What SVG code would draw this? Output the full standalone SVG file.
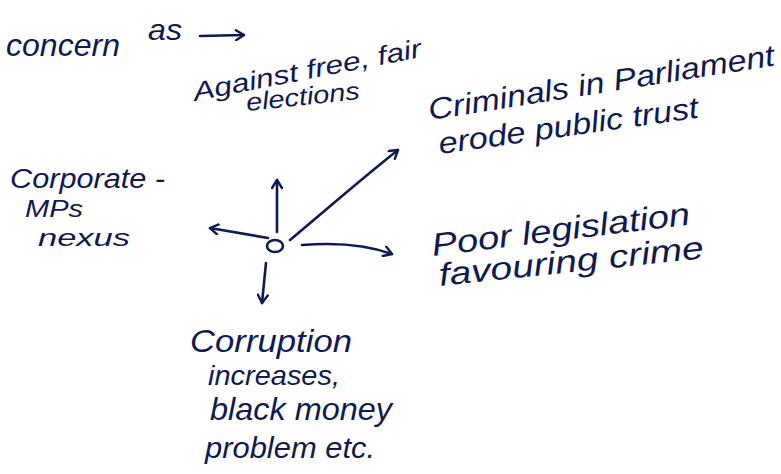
<svg xmlns="http://www.w3.org/2000/svg" width="781" height="474" viewBox="0 0 781 474">
<style>
text{font-family:"Liberation Sans","DejaVu Sans",sans-serif;fill:#0f1a52;font-style:italic}
.ink{fill:none;stroke:#0f1a52;stroke-width:2.6;stroke-linecap:round;stroke-linejoin:round}
</style>
<defs>
<marker id="ah" viewBox="0 0 12 12" refX="10" refY="6" markerWidth="12" markerHeight="12" markerUnits="userSpaceOnUse" orient="auto">
<path d="M2,1 L10,6 L2,11" fill="none" stroke="#0f1a52" stroke-width="2.4" stroke-linecap="round" stroke-linejoin="round"/>
</marker>
</defs>
<rect width="781" height="474" fill="#ffffff"/>
<g id="intro">
<text x="6" y="56" font-size="32" textLength="114" lengthAdjust="spacingAndGlyphs">concern</text>
<text x="148" y="40" font-size="30" textLength="34" lengthAdjust="spacingAndGlyphs">as</text>
<path class="ink" d="M200,36 L244,35" marker-end="url(#ah)"/>
</g>
<g id="hub">
<ellipse class="ink" cx="275" cy="246" rx="8" ry="6"/>
</g>
<g id="connectors">
<path class="ink" d="M277,232 L277,180" marker-end="url(#ah)"/>
<path class="ink" d="M268,238 L210,228" marker-end="url(#ah)"/>
<path class="ink" d="M290,240 C320,215 360,180 398,150" marker-end="url(#ah)"/>
<path class="ink" d="M302,245 C340,242 370,246 392,254" marker-end="url(#ah)"/>
<path class="ink" d="M266,263 L262,303" marker-end="url(#ah)"/>
</g>
<g id="n-elections">
<text font-size="26" transform="translate(195,101) rotate(-11)" textLength="232" lengthAdjust="spacingAndGlyphs">Against free, fair</text>
<text font-size="25" transform="translate(247,111) rotate(-6)" textLength="114" lengthAdjust="spacingAndGlyphs">elections</text>
</g>
<g id="n-criminals">
<text font-size="30" transform="translate(430,120) rotate(-9)" textLength="350" lengthAdjust="spacingAndGlyphs">Criminals in Parliament</text>
<text font-size="30" transform="translate(440,154) rotate(-8)" textLength="262" lengthAdjust="spacingAndGlyphs">erode public trust</text>
</g>
<g id="n-corporate">
<text x="10" y="188" font-size="27" textLength="155" lengthAdjust="spacingAndGlyphs">Corporate -</text>
<text x="25" y="217" font-size="23" textLength="58" lengthAdjust="spacingAndGlyphs">MPs</text>
<text x="38" y="246" font-size="24" textLength="92" lengthAdjust="spacingAndGlyphs">nexus</text>
</g>
<g id="n-legislation">
<text font-size="32" transform="translate(433,256) rotate(-7)" textLength="260" lengthAdjust="spacingAndGlyphs">Poor legislation</text>
<text font-size="32" transform="translate(440,286) rotate(-6)" textLength="266" lengthAdjust="spacingAndGlyphs">favouring crime</text>
</g>
<g id="n-corruption">
<text x="190" y="352" font-size="32" textLength="162" lengthAdjust="spacingAndGlyphs">Corruption</text>
<text x="208" y="385" font-size="28" textLength="132" lengthAdjust="spacingAndGlyphs">increases,</text>
<text x="210" y="420" font-size="32" textLength="182" lengthAdjust="spacingAndGlyphs">black money</text>
<text x="205" y="458" font-size="30" textLength="170" lengthAdjust="spacingAndGlyphs">problem etc.</text>
</g>
</svg>
